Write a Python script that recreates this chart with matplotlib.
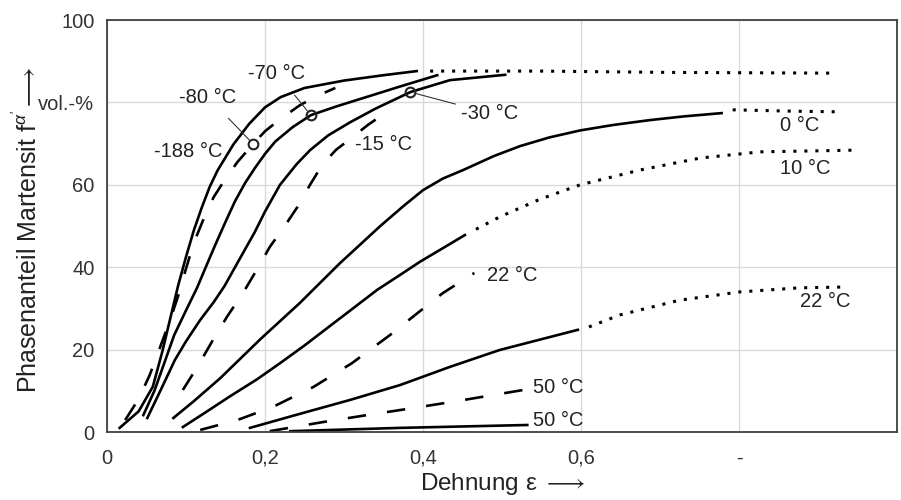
import numpy as np
import matplotlib
matplotlib.use("Agg")
import matplotlib.pyplot as plt

plt.rcParams['font.family'] = ['Liberation Sans', 'DejaVu Sans']
plt.rcParams['mathtext.fontset'] = 'custom'
plt.rcParams['mathtext.rm'] = 'Liberation Sans'
plt.rcParams['mathtext.it'] = 'Liberation Sans:italic'

# Kurven: Dehnung eps, Martensitanteil f (vol.-%)
# -188 °C (durchgezogen) + punktierte Fortsetzung
eps_m188 = [0.016, 0.04, 0.058, 0.07, 0.08, 0.09, 0.10, 0.11, 0.12, 0.13, 0.14, 0.16, 0.18,
            0.20, 0.22, 0.25, 0.30, 0.35, 0.392]
f_m188 = [1.0, 5.0, 11.0, 19.5, 27.5, 35.5, 42.5, 49.0, 54.5, 59.5, 63.5, 69.8, 74.8,
          78.8, 81.3, 83.5, 85.3, 86.6, 87.6]
eps_m188_dot = [0.409, 0.55, 0.70, 0.80, 0.922]
f_m188_dot = [87.6, 87.6, 87.3, 87.2, 87.1]

# -80 °C (gestrichelt)
eps_m80 = [0.023, 0.04, 0.054, 0.068, 0.08, 0.09, 0.099, 0.11, 0.124, 0.135, 0.149, 0.165,
           0.185, 0.20, 0.219, 0.244, 0.265, 0.289]
f_m80 = [2.9, 8.0, 13.8, 21.0, 27.2, 33.0, 39.0, 46.0, 52.5, 57.0, 61.2, 65.5,
         69.9, 73.0, 75.9, 79.3, 81.5, 83.5]

# -70 °C (durchgezogen)
eps_m70 = [0.046, 0.06, 0.073, 0.085, 0.10, 0.114, 0.125, 0.137, 0.15, 0.162, 0.175, 0.187,
           0.20, 0.213, 0.235, 0.258, 0.29, 0.32, 0.37, 0.418]
f_m70 = [4.1, 10.0, 17.0, 23.5, 29.5, 35.0, 40.0, 45.4, 51.0, 56.0, 60.5, 64.0,
         67.5, 70.5, 74.0, 76.9, 79.0, 80.8, 83.8, 86.6]

# -30 °C (durchgezogen)
eps_m30 = [0.051, 0.07, 0.086, 0.10, 0.118, 0.135, 0.149, 0.165, 0.187, 0.20, 0.219, 0.24,
           0.257, 0.28, 0.308, 0.34, 0.384, 0.434, 0.504]
f_m30 = [3.4, 11.0, 17.5, 22.0, 27.2, 31.5, 35.5, 41.0, 48.5, 53.5, 60.0, 65.0,
         68.4, 72.0, 75.2, 78.5, 82.5, 85.4, 86.7]

# -15 °C (gestrichelt)
eps_m15 = [0.096, 0.115, 0.134, 0.152, 0.172, 0.19, 0.206, 0.225, 0.241, 0.257, 0.273,
           0.29, 0.311, 0.33, 0.352]
f_m15 = [10.2, 16.0, 22.3, 28.0, 33.7, 39.5, 44.9, 50.0, 54.6, 60.0, 65.0,
         68.5, 71.6, 74.5, 77.4]

# 0 °C
eps_0 = [0.084, 0.11, 0.143, 0.194, 0.244, 0.295, 0.346, 0.375, 0.400, 0.425, 0.451, 0.49,
         0.523, 0.56, 0.599, 0.64, 0.687, 0.73, 0.778]
f_0 = [3.4, 7.5, 13.0, 22.5, 31.3, 41.0, 50.0, 54.8, 58.7, 61.5, 63.6, 67.0,
       69.4, 71.5, 73.2, 74.5, 75.7, 76.6, 77.4]
eps_0_dot = [0.792, 0.86, 0.930]
f_0_dot = [78.2, 77.9, 77.7]

# 10 °C
eps_10 = [0.096, 0.125, 0.156, 0.19, 0.219, 0.25, 0.282, 0.31, 0.342, 0.37, 0.396, 0.425, 0.453]
f_10 = [1.2, 4.8, 8.7, 12.8, 16.7, 21.0, 25.7, 29.8, 34.5, 38.0, 41.3, 44.6, 47.8]
eps_10_dot = [0.467, 0.497, 0.548, 0.599, 0.675, 0.751, 0.827, 0.944]
f_10_dot = [49.2, 52.2, 56.5, 60.0, 63.6, 66.5, 68.0, 68.4]

# 22 °C (gestrichelt)
eps_22d = [0.118, 0.165, 0.210, 0.261, 0.310, 0.358, 0.409, 0.425, 0.465]
f_22d = [0.5, 2.9, 6.1, 10.9, 16.7, 23.5, 31.3, 33.7, 38.6]

# 22 °C (durchgezogen) + punktiert
eps_22 = [0.181, 0.244, 0.308, 0.371, 0.434, 0.497, 0.596]
f_22 = [1.0, 4.4, 7.8, 11.4, 15.8, 19.9, 24.8]
eps_22_dot = [0.610, 0.649, 0.725, 0.801, 0.877, 0.938]
f_22_dot = [25.5, 28.4, 32.0, 34.0, 35.0, 35.2]

# 50 °C
eps_50d = [0.206, 0.273, 0.329, 0.387, 0.443, 0.527]
f_50d = [0.2, 2.4, 4.1, 5.8, 7.5, 10.2]
eps_50 = [0.232, 0.371, 0.532]
f_50 = [0.2, 1.0, 1.7]

# Markierte Punkte (Kreise)
mark_eps = [0.185, 0.258, 0.384]
mark_f = [69.9, 76.9, 82.5]

xticks = [0, 0.2, 0.4, 0.6, 0.8, 1.0]
xtick_labels = ["0", "0,2", "0,4", "0,6", "-", ""]
yticks = [0, 20, 40, 60, 80, 100]
ytick_labels = ["0", "20", "40", "60", "vol.-%", "100"]

fig = plt.figure(figsize=(9.01, 5.0), dpi=100)
ax = fig.add_axes([107/901, 1-432/500, 790/901, 412/500])
ax.set_xlim(0, 1.0)
ax.set_ylim(0, 100)

lw = 1.9
dash = (0, (7, 8))
dot = (0, (1, 2.6))
k = 'black'

ax.plot(eps_m188, f_m188, color=k, lw=lw)
ax.plot(eps_m188_dot, f_m188_dot, color=k, lw=2.2, ls=dot)
ax.plot(eps_m80, f_m80, color=k, lw=lw, ls=dash)
ax.plot(eps_m70, f_m70, color=k, lw=lw)
ax.plot(eps_m30, f_m30, color=k, lw=lw)
ax.plot(eps_m15, f_m15, color=k, lw=lw, ls=dash)
ax.plot(eps_0, f_0, color=k, lw=lw)
ax.plot(eps_0_dot, f_0_dot, color=k, lw=2.2, ls=dot)
ax.plot(eps_10, f_10, color=k, lw=lw)
ax.plot(eps_10_dot, f_10_dot, color=k, lw=2.2, ls=dot)
ax.plot(eps_22d, f_22d, color=k, lw=lw, ls=dash)
ax.plot(eps_22, f_22, color=k, lw=lw)
ax.plot(eps_22_dot, f_22_dot, color=k, lw=2.2, ls=dot)
ax.plot(eps_50d, f_50d, color=k, lw=lw, ls=dash)
ax.plot(eps_50, f_50, color=k, lw=lw)

ax.plot(mark_eps, mark_f, ls='none', marker='o', ms=7, mfc='none', mec='#222222', mew=1.5)

# Beschriftungen mit Hinweislinien
fs = 14.5
tc = '#222222'
ax.annotate("-80 °C", xy=(mark_eps[0], mark_f[0]), xytext=(0.128, 81.3),
            ha='center', va='center', fontsize=fs, color=tc,
            arrowprops=dict(arrowstyle='-', color='#333333', lw=0.8, shrinkA=9, shrinkB=4))
ax.annotate("-70 °C", xy=(mark_eps[1], mark_f[1]), xytext=(0.215, 87.1),
            ha='center', va='center', fontsize=fs, color=tc,
            arrowprops=dict(arrowstyle='-', color='#333333', lw=0.8, shrinkA=9, shrinkB=4))
ax.annotate("-30 °C", xy=(mark_eps[2], mark_f[2]), xytext=(0.448, 77.4),
            ha='left', va='center', fontsize=fs, color=tc,
            arrowprops=dict(arrowstyle='-', color='#333333', lw=0.8, shrinkA=2, shrinkB=4))

ax.text(0.146, 68.0, "-188 °C", ha='right', va='center', fontsize=fs, color=tc)
ax.text(0.314, 69.7, "-15 °C", ha='left', va='center', fontsize=fs, color=tc)
ax.text(0.852, 74.5, "0 °C", ha='left', va='center', fontsize=fs, color=tc)
ax.text(0.852, 64.0, "10 °C", ha='left', va='center', fontsize=fs, color=tc)
ax.text(0.481, 37.9, "22 °C", ha='left', va='center', fontsize=fs, color=tc)
ax.text(0.877, 31.6, "22 °C", ha='left', va='center', fontsize=fs, color=tc)
ax.text(0.539, 10.7, "50 °C", ha='left', va='center', fontsize=fs, color=tc)
ax.text(0.539, 2.7, "50 °C", ha='left', va='center', fontsize=fs, color=tc)

ax.set_xticks(xticks)
ax.set_xticklabels(xtick_labels)
ax.set_yticks(yticks)
ax.set_yticklabels(ytick_labels)
ax.tick_params(axis='both', length=0, labelsize=fs, labelcolor='#333333')
ax.tick_params(axis='x', pad=12)
ax.tick_params(axis='y', pad=9)
ax.grid(True, color='#d9d9d9', lw=1.0)
ax.set_axisbelow(True)
for s in ax.spines.values():
    s.set_color('#404040')
    s.set_linewidth(1.3)

fig.text(503/901, 1-484/500, r"Dehnung ε $\longrightarrow$", ha='center', va='center', fontsize=17.5, color='#222222')
fig.text(27/901, 1-230/500, r"Phasenanteil Martensit f$^{\alpha'}$$\longrightarrow$",
         rotation=90, ha='center', va='center', fontsize=18, color='#222222')

fig.savefig("out.png", dpi=100)
